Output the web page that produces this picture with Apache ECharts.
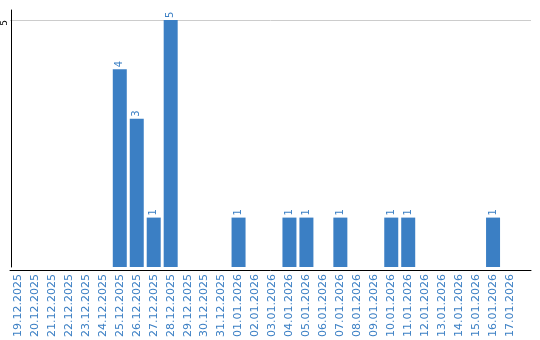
<!DOCTYPE html>
<html><head><meta charset="utf-8">
<script src="https://cdn.jsdelivr.net/npm/echarts@6/dist/echarts.min.js"></script>
<style>html,body{margin:0;padding:0;background:#fff}#c{width:540px;height:340px}</style>
</head><body><div id="c"></div>
<script>
const categories = ['19.12.2025','20.12.2025','21.12.2025','22.12.2025','23.12.2025','24.12.2025','25.12.2025','26.12.2025','27.12.2025','28.12.2025','29.12.2025','30.12.2025','31.12.2025','01.01.2026','02.01.2026','03.01.2026','04.01.2026','05.01.2026','06.01.2026','07.01.2026','08.01.2026','09.01.2026','10.01.2026','11.01.2026','12.01.2026','13.01.2026','14.01.2026','15.01.2026','16.01.2026','17.01.2026'];
const values = [0,0,0,0,0,0,4,3,1,5,0,0,0,1,0,0,1,1,0,1,0,0,1,1,0,0,0,0,1,0];
const yTicks = [5];
const blue = '#3b7fc4';
const chart = echarts.init(document.getElementById('c'), null, {renderer:'canvas'});
chart.setOption({
  animation:false,
  grid:[
    {left:8.5, width:510, top:10, bottom:70},
    {left:10, right:9, top:20, bottom:70}
  ],
  xAxis:[
    {type:'category', gridIndex:0, data:categories,
     axisLine:{show:false}, axisTick:{show:false},
     axisLabel:{interval:0, rotate:90, color:blue, fontSize:11, fontFamily:'DejaVu Sans', margin:7}},
    {type:'value', gridIndex:1, min:0, max:1,
     axisLine:{show:true, onZero:false, lineStyle:{color:'#000', width:1}},
     axisTick:{show:false}, axisLabel:{show:false}, splitLine:{show:false}}
  ],
  yAxis:[
    {type:'value', gridIndex:0, min:0, max:5.2, interval:5, offset:-1.5,
     axisLine:{show:true, lineStyle:{color:'#000', width:1}},
     axisTick:{show:false}, splitLine:{show:false},
     axisLabel:{rotate:90, fontSize:9, color:'#000', fontFamily:'DejaVu Sans', margin:2,
       padding:[0,6,0,0],
       formatter:v => yTicks.includes(v) ? String(v) : ''}},
    {type:'value', gridIndex:1, min:0, max:5, interval:5,
     axisLine:{show:false}, axisTick:{show:false}, axisLabel:{show:false},
     splitLine:{show:true, lineStyle:{color:'#cccccc', width:1, type:'solid'}}}
  ],
  series:[{
    type:'bar', xAxisIndex:0, yAxisIndex:0, data:values, barWidth:14,
    itemStyle:{color:blue},
    label:{show:true, position:'top', rotate:90, align:'left', verticalAlign:'middle', distance:2,
      fontSize:10, color:blue, fontFamily:'DejaVu Sans',
      formatter:p => p.value ? String(p.value) : ''}
  }]
});
</script></body></html>
